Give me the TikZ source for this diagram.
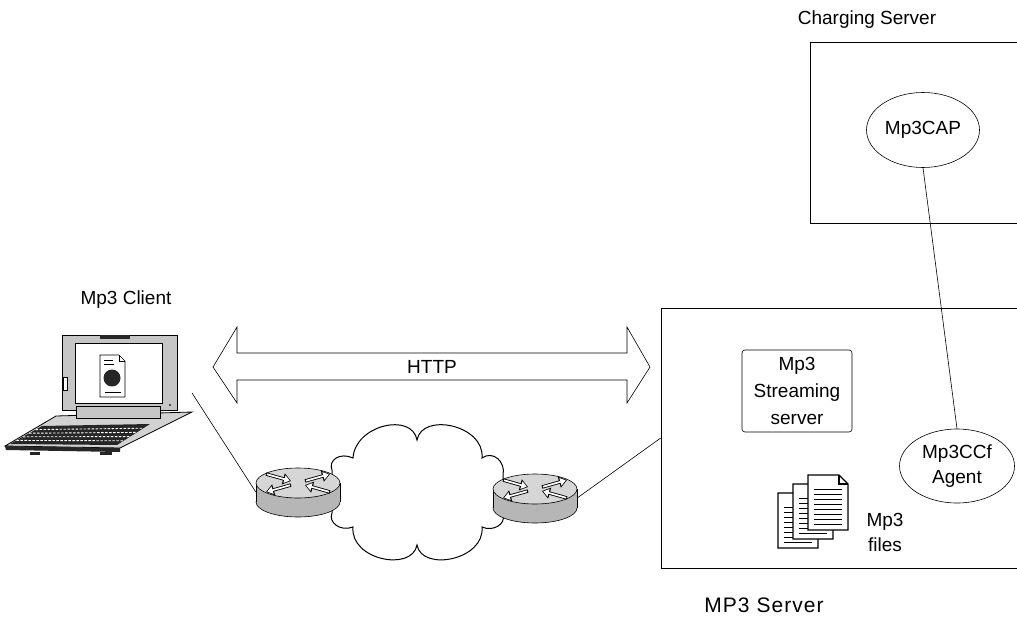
\documentclass[tikz,border=0pt]{standalone}
\usepackage{fontspec}
\setmainfont{Liberation Sans}
\usetikzlibrary{shapes.geometric,arrows.meta}

\tikzstyle{label-text}=[font=\fontsize{19}{25}\selectfont, inner sep=0pt]
\tikzstyle{server-box}=[draw, line width=0.6pt, inner sep=0pt]
\tikzstyle{agent}=[ellipse, draw, line width=0.6pt, inner sep=0pt, align=center, font=\fontsize{19}{25}\selectfont]
\tikzstyle{link}=[line width=0.6pt]
\tikzstyle{rt-arrow}=[line width=3.4pt, -{Triangle[length=8pt,width=11pt]}]
\tikzstyle{rt-arrow-in}=[white, line width=1.7pt, shorten <=1pt, shorten >=1.3pt, -{Triangle[length=5.5pt,width=7.5pt]}]
\definecolor{lid-gray}{HTML}{C6C6C6}
\definecolor{base-gray}{HTML}{D2D2D2}
\definecolor{key-dark}{HTML}{262626}
\definecolor{router-top}{HTML}{D6D6D6}
\definecolor{router-side}{HTML}{B6B6B6}

\newcommand{\router}[3]{%
  \begin{scope}[shift={(#2,#3)}]
    \draw[fill=router-side, line width=0.6pt] (0,19) ellipse [x radius=42pt, y radius=15pt];
    \fill[router-side] (-42,0) rectangle (42,19);
    \draw[line width=0.6pt] (-42,0) -- (-42,19) (42,0) -- (42,19);
    \draw[fill=router-top, line width=0.6pt] (0,0) ellipse [x radius=42pt, y radius=15pt];
    \draw[rt-arrow] (-32,-9) -- (-7,-2);
    \draw[rt-arrow-in] (-32,-9) -- (-7,-2);
    \draw[rt-arrow] (32,9) -- (7,2);
    \draw[rt-arrow-in] (32,9) -- (7,2);
    \draw[rt-arrow] (7,-2) -- (32,-9);
    \draw[rt-arrow-in] (7,-2) -- (32,-9);
    \draw[rt-arrow] (-7,2) -- (-32,9);
    \draw[rt-arrow-in] (-7,2) -- (-32,9);
  \end{scope}
  \node (#1) at (#2,#3+9) [minimum width=84pt, minimum height=36pt, inner sep=0pt] {};
}

\newcommand{\mpfile}[2]{%
  \begin{scope}[shift={(#1,#2)}]
    \draw[fill=white, line width=1.1pt] (0,0) -- (31,0) -- (40,9) -- (40,55) -- (0,55) -- cycle;
    \draw[line width=1.1pt] (31,0) -- (31,9) -- (40,9);
    \foreach \y in {14,19,...,49}
      \draw[line width=1pt] (6,\y) -- (34,\y);
  \end{scope}
}

\begin{document}
\begin{tikzpicture}[x=1pt, y=-1pt]
  \useasboundingbox (0,0) rectangle (1017,616);

  % charging side
  \node (charging-label) at (867,20) [label-text] {Charging Server};
  \node (charging-box) at (920,132.5) [server-box, minimum width=220pt, minimum height=181pt] {};
  \node (agent-cap) at (923,130) [agent, minimum width=113pt, minimum height=75pt] {Mp3CAP};

  % mp3 server side
  \node (mp3-box) at (845.5,438) [server-box, minimum width=369pt, minimum height=260pt] {};
  \node (mp3-label) at (764,605) [label-text, font=\fontsize{21}{25}\selectfont\addfontfeatures{LetterSpace=5}] {MP3 Server};
  \node (mp3-stream) at (797,391) [server-box, rounded corners=3pt, align=center, font=\fontsize{19}{27}\selectfont, minimum width=110pt, minimum height=82pt] {Mp3\\Streaming\\server};
  \node (agent-ccf) at (957,466) [agent, minimum width=115pt, minimum height=74pt] {Mp3CCf\\Agent};
  \mpfile{778}{493}
  \mpfile{793}{484}
  \mpfile{808}{475}
  \node (mp3-files) at (885,532) [label-text, align=center] {Mp3\\files};

  % client laptop
  \node (client-label) at (126,300) [label-text] {Mp3 Client};
  \draw[fill=base-gray, line width=0.8pt] (5,446) -- (56,416) -- (192,412) -- (120,448) -- cycle;
  \fill[key-dark] (5,446) -- (6,450) -- (120,452) -- (120,448) -- cycle;
  \fill[key-dark] (100,452) rectangle (112,455);
  \fill[key-dark] (30,452) rectangle (40,455);
  \fill[key-dark] (10,444) -- (42,426) -- (150,424) -- (117,445) -- cycle;
  \foreach \xa/\ya/\xb/\yb in {16.4/440.4/123.6/440.8, 22.8/436.8/130.2/436.6, 29.2/433.2/136.8/432.4, 35.6/429.6/143.4/428.2}
    \draw[white, line width=0.9pt, dash pattern=on 2.5pt off 1.5pt] (\xa,\ya) -- (\xb,\yb);
  \draw[fill=lid-gray, line width=0.8pt] (62,335) rectangle (177,410);
  \fill[key-dark] (100,335) rectangle (130,339);
  \draw[fill=white, line width=0.8pt] (75,343) rectangle (162,403);
  \draw[fill=lid-gray, line width=0.8pt] (76,406) rectangle (160,418);
  \draw[fill=white, line width=0.5pt] (63,377) rectangle (67,390);
  \fill[key-dark] (170,405) circle [radius=1.2pt];
  \draw[fill=white, line width=0.7pt] (100,355) -- (119,355) -- (125,361) -- (125,397) -- (100,397) -- cycle;
  \draw[line width=0.6pt] (119,355) -- (119,361) -- (125,361);
  \fill[key-dark] (112,378) circle [radius=8.5pt];
  \draw[line width=0.6pt] (104,360) -- (113,360) (104,364) -- (114,364) (105,392) -- (121,392);
  \coordinate (client-port) at (192,393);

  % network
  \draw[fill=white, line width=1pt]
    (353,458) .. controls (355,425) and (412,412) .. (417,440)
    .. controls (422,412) and (485,425) .. (482,458)
    .. controls (493,450) and (506,462) .. (503,475)
    -- (503,515)
    .. controls (506,524) and (493,532) .. (482,527)
    .. controls (485,560) and (422,572) .. (417,545)
    .. controls (412,572) and (350,560) .. (353,527)
    .. controls (340,532) and (328,522) .. (332,513)
    -- (332,470)
    .. controls (328,460) and (340,452) .. cycle;
  \router{router-left}{298}{483}
  \router{router-right}{535}{489}

  \draw[fill=white, line width=0.6pt] (213,367) -- (237,327) -- (237,353) -- (627,353) -- (627,327) -- (650,367)
    -- (627,403) -- (627,380) -- (237,380) -- (237,403) -- cycle;
  \node (http) at (432,367) [label-text] {HTTP};

  \draw[link] (client-port) -- (router-left.west);
  \draw[link] (router-right.east) -- (mp3-box.west);
  \draw[link] (agent-cap.south) -- (agent-ccf.north);
\end{tikzpicture}
\end{document}
